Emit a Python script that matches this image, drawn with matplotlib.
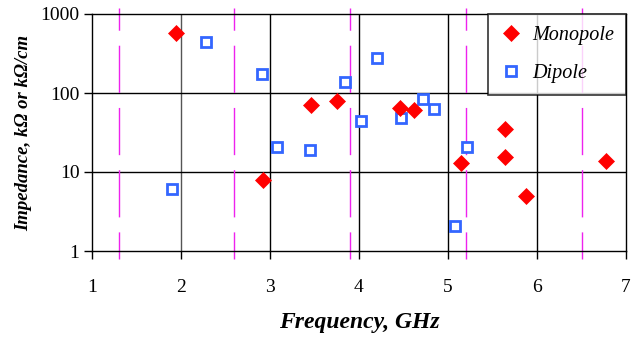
import matplotlib
matplotlib.use("Agg")
import matplotlib.pyplot as plt
import numpy as np

# Monopole (red diamonds)
mono_freq = [1.94, 2.92, 3.46, 3.75, 4.46, 4.62, 5.15, 5.64, 5.64, 5.88, 6.78]
mono_imp = [575, 7.9, 70, 79, 64, 61, 13, 35, 15.5, 5.0, 13.6]

# Dipole (blue open squares)
dip_freq = [1.90, 2.28, 2.91, 3.08, 3.45, 3.84, 4.02, 4.20, 4.47, 4.72, 4.84, 5.08, 5.21]
dip_imp = [6.1, 443, 174, 21, 19, 138, 44, 277, 48, 84, 63, 2.1, 21]

# vertical marker lines (magenta dashed)
vlines_x = [1.3, 2.6, 3.9, 5.2, 6.5]

x_ticks = [1, 2, 3, 4, 5, 6, 7]
y_ticks = [1, 10, 100, 1000]
y_ticklabels = ["1", "10", "100", "1000"]

plt.rcParams["font.family"] = ["Liberation Serif", "DejaVu Serif"]

fig = plt.figure(figsize=(6.38, 3.39), dpi=100)
ax = fig.add_axes([92 / 638, 88 / 339, 534 / 638, 237 / 339])

ax.set_yscale("log")
ax.set_xlim(1, 7)
ax.set_ylim(1, 1000)

for xv in x_ticks[1:-1]:
    ax.axvline(xv, color="#555555" if xv == 2 else "black", lw=1.0, zorder=1)
for yv in y_ticks[1:-1]:
    ax.axhline(yv, color="black", lw=1.0, zorder=1)

# dashed lines run a bit past the frame, top to bottom
for xv in vlines_x:
    ax.plot([xv, xv], [1190, 0.79], color="#ee22ee", lw=1.0,
            linestyle=(18, (34, 10.8)), clip_on=False, zorder=2)

ax.plot(mono_freq, mono_imp, linestyle="none", marker="D", ms=8.3,
        color="#ff0000", mec="#ff0000", mew=0.5, label="Monopole", zorder=4)
ax.plot(dip_freq, dip_imp, linestyle="none", marker="s", ms=7,
        mfc="white", mec="#3366ff", mew=2.0, label="Dipole", zorder=3)

ax.set_xticks(x_ticks)
ax.set_xticklabels([str(v) for v in x_ticks])
ax.set_yticks(y_ticks)
ax.set_yticklabels(y_ticklabels)
ax.minorticks_off()
ax.tick_params(axis="both", direction="out", length=6, width=1,
               labelsize=14, colors="black")
ax.tick_params(axis="x", pad=14)
ax.tick_params(axis="y", pad=3)

for sp in ax.spines.values():
    sp.set_color("black")
    sp.set_linewidth(1.0)

ax.set_xlabel("Frequency, GHz", fontsize=17, fontweight="bold",
              fontstyle="italic", labelpad=12)
ax.set_ylabel("Impedance, k\u03a9 or k\u03a9/cm", fontsize=13.5,
              fontweight="bold", fontstyle="italic", labelpad=6)

leg = ax.legend(loc="upper right", frameon=True, fancybox=False,
                borderaxespad=0, prop={"style": "italic", "size": 14.5},
                handletextpad=0.5, labelspacing=0.95, borderpad=0.6,
                handlelength=1.1)
leg.get_frame().set_edgecolor("black")
leg.get_frame().set_linewidth(1.2)
leg.set_zorder(5)

fig.savefig("out.png", dpi=100)
